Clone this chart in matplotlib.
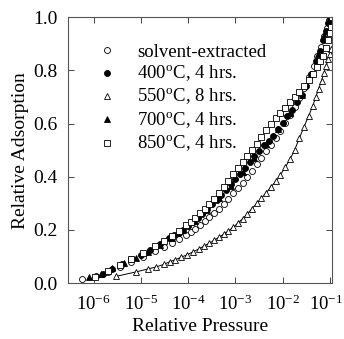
import numpy as np
import matplotlib
matplotlib.use('Agg')
import matplotlib.pyplot as plt
import matplotlib.transforms as mtransforms

plt.rcParams['font.family'] = ['Liberation Serif', 'DejaVu Serif']
plt.rcParams['mathtext.fontset'] = 'stix'

# log10(relative pressure) and relative adsorption
solvent_logp = [-6.25, -5.95, -5.7, -5.45, -5.2, -4.95, -4.7, -4.5, -4.35, -4.2, -4.05, -3.95,
                -3.85, -3.75, -3.65, -3.55, -3.45, -3.35, -3.25, -3.15, -3.05, -2.95, -2.85,
                -2.75, -2.65, -2.55, -2.45, -2.35, -2.25, -2.15, -2.05, -1.95, -1.85, -1.75,
                -1.65, -1.55, -1.45, -1.35, -1.27, -1.2, -1.13, -1.07, -1.02]
solvent_ads = [0.015, 0.026, 0.042, 0.060, 0.080, 0.099, 0.119, 0.137, 0.150, 0.165, 0.181, 0.193,
               0.205, 0.218, 0.232, 0.247, 0.263, 0.280, 0.298, 0.317, 0.337, 0.357, 0.378,
               0.400, 0.423, 0.447, 0.471, 0.496, 0.521, 0.547, 0.574, 0.602, 0.632, 0.664,
               0.698, 0.735, 0.775, 0.818, 0.855, 0.890, 0.928, 0.960, 0.988]

c400_logp = [-5.8, -5.6, -5.4, -5.2, -5.0, -4.8, -4.6, -4.4, -4.3, -4.2, -4.1, -4.0, -3.9, -3.8,
             -3.7, -3.6, -3.5, -3.4, -3.3, -3.2, -3.1, -3.0, -2.9, -2.8, -2.7, -2.6, -2.5, -2.4,
             -2.3, -2.2, -2.1, -2.0, -1.9, -1.8, -1.7, -1.6, -1.5, -1.4, -1.3, -1.22, -1.15,
             -1.09, -1.04, -1.01]
c400_ads = [0.033, 0.052, 0.071, 0.089, 0.107, 0.125, 0.146, 0.168, 0.179, 0.190, 0.201, 0.214,
            0.228, 0.243, 0.260, 0.278, 0.296, 0.314, 0.333, 0.352, 0.371, 0.390, 0.411, 0.433,
            0.455, 0.477, 0.498, 0.518, 0.536, 0.555, 0.578, 0.602, 0.627, 0.652, 0.680, 0.708,
            0.742, 0.785, 0.835, 0.875, 0.915, 0.950, 0.980, 0.997]

c550_logp = [-5.53, -5.1, -4.85, -4.67, -4.52, -4.39, -4.27, -4.15, -4.03, -3.9, -3.78, -3.66,
             -3.55, -3.45, -3.35, -3.25, -3.15, -3.05, -2.95, -2.85, -2.75, -2.65, -2.55, -2.45,
             -2.35, -2.25, -2.15, -2.05, -1.95, -1.85, -1.75, -1.65, -1.55, -1.45, -1.37, -1.3,
             -1.24, -1.18, -1.13, -1.08, -1.04, -1.01, -0.985]
c550_ads = [0.025, 0.042, 0.053, 0.061, 0.070, 0.080, 0.088, 0.097, 0.106, 0.117, 0.128, 0.140,
            0.150, 0.161, 0.172, 0.184, 0.196, 0.210, 0.225, 0.242, 0.260, 0.280, 0.300, 0.320,
            0.340, 0.361, 0.383, 0.407, 0.435, 0.465, 0.500, 0.545, 0.588, 0.630, 0.665, 0.700,
            0.732, 0.762, 0.790, 0.818, 0.842, 0.862, 0.880]

c700_logp = [-6.1, -5.85, -5.6, -5.35, -5.1, -4.85, -4.6, -4.35, -4.1, -3.85, -3.6, -3.35,
             -3.1, -2.85, -2.6, -2.35, -2.1, -1.85, -1.6, -1.4, -1.25, -1.12, -1.03]
c700_ads = [0.022, 0.035, 0.055, 0.075, 0.095, 0.118, 0.143, 0.170, 0.199, 0.233, 0.275, 0.320,
            0.365, 0.418, 0.472, 0.525, 0.580, 0.640, 0.708, 0.785, 0.860, 0.935, 0.985]

c850_logp = [-5.97, -5.7, -5.45, -5.2, -4.95, -4.7, -4.5, -4.35, -4.2, -4.05, -3.95, -3.85,
             -3.75, -3.65, -3.55, -3.45, -3.35, -3.25, -3.15, -3.05, -2.95, -2.85, -2.75,
             -2.65, -2.55, -2.45, -2.35, -2.25, -2.15, -2.05, -1.95, -1.85, -1.75, -1.65,
             -1.55, -1.45, -1.36, -1.28, -1.21, -1.15, -1.09, -1.04, -1.0, -0.98, -0.96]
c850_ads = [0.024, 0.045, 0.068, 0.090, 0.113, 0.138, 0.160, 0.178, 0.197, 0.217, 0.231, 0.246,
            0.262, 0.279, 0.297, 0.316, 0.337, 0.360, 0.385, 0.410, 0.432, 0.455, 0.478,
            0.500, 0.523, 0.548, 0.575, 0.598, 0.620, 0.640, 0.660, 0.680, 0.700, 0.720,
            0.742, 0.765, 0.788, 0.812, 0.836, 0.855, 0.885, 0.915, 0.940, 0.965, 1.0]

labels = ['solvent-extracted', r'400$^\mathregular{o}$C, 4 hrs.', r'550$^\mathregular{o}$C, 8 hrs.',
          r'700$^\mathregular{o}$C, 4 hrs.', r'850$^\mathregular{o}$C, 4 hrs.']

fig = plt.figure(figsize=(3.44, 3.39), dpi=100)
ax = fig.add_axes([0.199, 0.165, 0.766, 0.784])

ms = 4.3
ax.plot(10 ** np.array(c550_logp), c550_ads, '-', color='black', lw=0.7, zorder=1)
ax.plot(10 ** np.array(solvent_logp), solvent_ads, 'o', ms=ms, mfc='white', mec='black',
        mew=0.6, ls='none', label=labels[0])
ax.plot(10 ** np.array(c400_logp), c400_ads, 'o', ms=ms, mfc='black', mec='black',
        mew=0.6, ls='none', label=labels[1])
ax.plot(10 ** np.array(c550_logp), c550_ads, '^', ms=ms, mfc='white', mec='black',
        mew=0.6, ls='none', label=labels[2])
ax.plot(10 ** np.array(c700_logp), c700_ads, '^', ms=ms, mfc='black', mec='black',
        mew=0.6, ls='none', label=labels[3])
ax.plot(10 ** np.array(c850_logp), c850_ads, 's', ms=ms, mfc='white', mec='black',
        mew=0.6, ls='none', label=labels[4])

ax.set_xscale('log')
ax.set_xlim(10 ** -6.53, 10 ** -0.96)
ax.set_ylim(0, 1.0)
ax.set_xticks([1e-6, 1e-5, 1e-4, 1e-3, 1e-2, 1e-1])
ax.set_xticklabels([r'$\mathregular{10^{-%d}}$' % k for k in range(6, 0, -1)])
ax.xaxis.set_minor_locator(matplotlib.ticker.NullLocator())
ax.set_yticks([0.0, 0.2, 0.4, 0.6, 0.8, 1.0])
ax.set_yticklabels(['0.0', '0.2', '0.4', '0.6', '0.8', '1.0'])
ax.tick_params(direction='in', top=True, right=True, length=4, width=0.7,
               labelsize=14, pad=8, color='#444444')
ax.tick_params(axis='x', labelsize=13.5, pad=8)
for s in ax.spines.values():
    s.set_color('#555555')
    s.set_linewidth(0.8)

# nudge the last x tick label so it stays inside the figure
last = ax.get_xticklabels()[-1]
last.set_transform(last.get_transform() +
                   mtransforms.ScaledTranslation(-4 / 100, 0, fig.dpi_scale_trans))

ax.set_xlabel('Relative Pressure', fontsize=14, labelpad=3)
ax.set_ylabel('Relative Adsorption', fontsize=14, labelpad=3)

leg = ax.legend(loc='upper left', bbox_to_anchor=(0.06, 0.95), frameon=False, fontsize=13.5,
                handlelength=1.0, handletextpad=1.1, labelspacing=0.16, numpoints=1,
                borderpad=0.2)

fig.savefig('out.png', dpi=100)
